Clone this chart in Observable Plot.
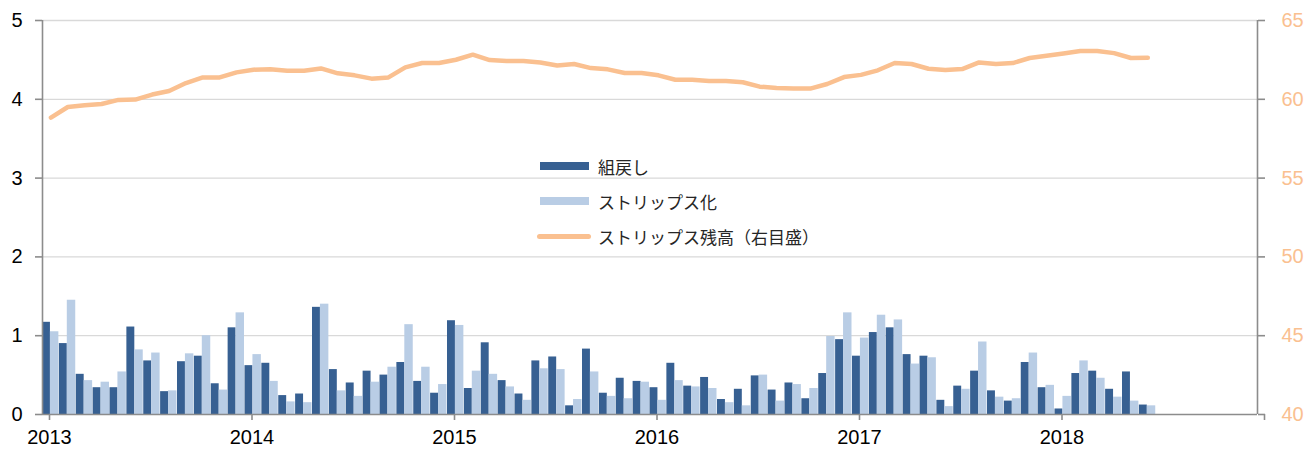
<!DOCTYPE html>
<html><head><meta charset="utf-8">
<script src="https://cdn.jsdelivr.net/npm/d3@7"></script>
<script src="https://cdn.jsdelivr.net/npm/@observablehq/plot@0.6"></script>
<style>
body{margin:0;background:#fff}
#wrap{position:relative;width:1315px;height:451px}
.lg{position:absolute;left:537px;height:24px;display:flex;align-items:center;font-family:"Noto Sans CJK JP",sans-serif;font-size:17px;color:#262626;white-space:nowrap}
.sw{display:inline-block;width:49px;margin-left:3px;margin-right:9px}
</style>
</head><body><div id="wrap"></div>
<script>
const yearLabels = ["2013","2014","2015","2016","2017","2018",""];
const seriesNames = ["組戻し","ストリップス化","ストリップス残高（右目盛）"];
const kumimodoshi = [
 1.17,0.90,0.51,0.34,0.34,1.11,0.68,0.29,0.67,0.74,0.39,1.10,
 0.62,0.65,0.24,0.26,1.36,0.57,0.40,0.55,0.50,0.66,0.42,0.27,
 1.19,0.33,0.91,0.43,0.26,0.68,0.73,0.11,0.83,0.27,0.46,0.42,
 0.34,0.65,0.36,0.47,0.19,0.32,0.49,0.31,0.40,0.20,0.52,0.95,
 0.74,1.04,1.10,0.76,0.74,0.18,0.36,0.55,0.30,0.17,0.66,0.34,
 0.07,0.52,0.55,0.32,0.54,0.12];
const stripsKa = [
 1.05,1.45,0.43,0.41,0.54,0.82,0.78,0.30,0.77,1.00,0.31,1.29,
 0.76,0.42,0.16,0.15,1.40,0.30,0.23,0.41,0.60,1.14,0.60,0.38,
 1.13,0.55,0.51,0.35,0.18,0.58,0.57,0.19,0.54,0.23,0.20,0.41,
 0.18,0.43,0.35,0.33,0.15,0.11,0.50,0.17,0.38,0.33,0.99,1.29,
 0.97,1.26,1.20,0.64,0.72,0.10,0.32,0.92,0.22,0.20,0.78,0.37,
 0.23,0.68,0.46,0.22,0.17,0.11];
const zandaka = [
 58.84,59.51,59.62,59.70,59.96,59.98,60.30,60.53,61.03,61.39,61.39,61.71,
 61.88,61.90,61.81,61.81,61.96,61.65,61.52,61.31,61.39,62.03,62.30,62.30,
 62.51,62.83,62.49,62.43,62.43,62.34,62.15,62.24,61.98,61.90,61.67,61.67,
 61.52,61.24,61.24,61.16,61.16,61.08,60.80,60.72,60.68,60.68,60.97,61.41,
 61.55,61.84,62.30,62.24,61.94,61.86,61.92,62.34,62.24,62.30,62.62,62.76,
 62.91,63.06,63.06,62.93,62.62,62.64];
const leftTicks = [0,1,2,3,4,5];
const rightTicks = [40,45,50,55,60,65];

const colors = ["#376092","#b9cde5","#fac090"];
const months = d3.range(kumimodoshi.length);
const bars = months.flatMap(i => [
  {x1:i, x2:i+0.47, v:kumimodoshi[i], s:0},
  {x1:i+0.47, x2:i+0.97, v:stripsKa[i], s:1}
]);
const toLeft = v => (v-40)/5;
const lineData = months.map(i => ({x:i+0.5, v:toLeft(zandaka[i])}));

const chart = Plot.plot({
  width:1315, height:451,
  marginLeft:42, marginRight:58, marginTop:20, marginBottom:37,
  x:{type:"linear", domain:[0,72]},
  y:{domain:[0,5]},
  style:{fontFamily:"'Liberation Sans', Arial, sans-serif", fontSize:"20px", background:"#fff", color:"#000"},
  marks:[
    Plot.ruleY(leftTicks.slice(1), {stroke:"#d9d9d9", strokeWidth:1.3}),
    Plot.rectY(bars, {x1:"x1", x2:"x2", y:"v", fill:d=>colors[d.s], inset:0}),
    Plot.line(lineData, {x:"x", y:"v", stroke:colors[2], strokeWidth:4.5, strokeLinecap:"round", strokeLinejoin:"round"}),
    Plot.ruleX([0,72], {stroke:"#8c8c8c", strokeWidth:1.6}),
    Plot.ruleY([0], {stroke:"#8c8c8c", strokeWidth:1.6}),
    Plot.axisY({ticks:leftTicks, tickSize:7, tickPadding:13, stroke:"#8c8c8c", strokeWidth:1.6, fill:"#000", tickFormat:d=>String(d), label:null}),
    Plot.axisY({anchor:"right", ticks:rightTicks.map(toLeft), tickSize:7, tickPadding:17, stroke:"#8c8c8c", strokeWidth:1.6, fill:"#fac090", tickFormat:d=>String(Math.round(40+5*d)), label:null}),
    Plot.axisX({ticks:d3.range(0,73,12), tickSize:6, tickPadding:9, stroke:"#8c8c8c", strokeWidth:1.6, fill:"#000", tickFormat:d=>yearLabels[d/12], dx:7, label:null})
  ]
});
const wrap = document.getElementById("wrap");
wrap.appendChild(chart);

const legendRows = [
  {c:166, h:8, r:0},
  {c:201, h:8, r:0},
  {c:236, h:5, r:3}
];
seriesNames.forEach((name,i) => {
  const row = document.createElement("div");
  row.className = "lg";
  row.style.top = (legendRows[i].c - 12) + "px";
  const sw = document.createElement("span");
  sw.className = "sw";
  sw.style.height = legendRows[i].h + "px";
  sw.style.background = colors[i];
  sw.style.borderRadius = legendRows[i].r + "px";
  if (i === 2) { sw.style.width = "54px"; sw.style.marginLeft = "0px"; sw.style.marginRight = "7px"; }
  row.appendChild(sw);
  const t = document.createElement("span");
  t.textContent = name;
  row.appendChild(t);
  wrap.appendChild(row);
});
</script>
</body></html>
